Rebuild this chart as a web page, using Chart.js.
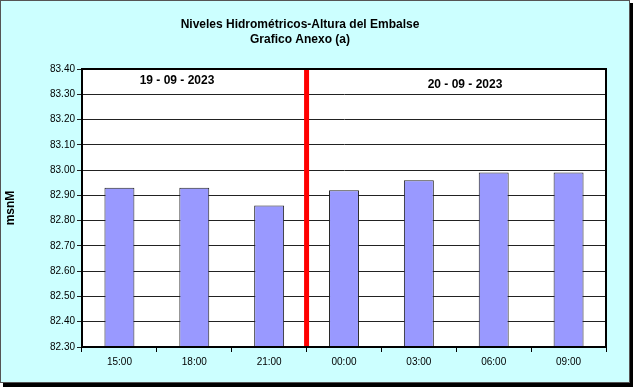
<!DOCTYPE html>
<html>
<head>
<meta charset="utf-8">
<script src="https://cdn.jsdelivr.net/npm/chart.js@4/dist/chart.umd.min.js"></script>
<style>
  html, body { margin: 0; padding: 0; background: #fff; }
  canvas { display: block; }
</style>
</head>
<body>
<canvas id="nivelesChart" width="633" height="387"></canvas>
<script>
// Chart data
const horas = ['15:00', '18:00', '21:00', '00:00', '03:00', '06:00', '09:00'];
const niveles = [82.93, 82.93, 82.86, 82.92, 82.96, 82.99, 82.99];
const fechas = ['19 - 09 - 2023', '20 - 09 - 2023'];
const tituloLineas = ['Niveles Hidrométricos-Altura del Embalse', 'Grafico Anexo (a)'];
const ejeY = { min: 82.3, max: 83.4, step: 0.1, titulo: 'msnM' };
const cambioDia = 2.5; // between 21:00 and 00:00

const FONT = "'Liberation Sans', Arial, sans-serif";

// Background, frame, titles, day divider
const decoPlugin = {
  id: 'deco',
  beforeDraw(chart) {
    const ctx = chart.ctx;
    const W = chart.width, H = chart.height;
    ctx.save();
    // shadow
    ctx.fillStyle = '#000';
    ctx.fillRect(3, 3, W - 3, H - 3);
    ctx.fillStyle = '#fff';
    ctx.fillRect(0, 0, 3, H);
    ctx.fillRect(0, 0, W, 3);
    // frame
    ctx.fillStyle = '#CCFFFF';
    ctx.fillRect(0, 0, 630, 383);
    ctx.strokeStyle = '#555';
    ctx.lineWidth = 1;
    ctx.strokeRect(0.5, 0.5, 629, 382);
    // plot background
    const a = chart.chartArea;
    ctx.fillStyle = '#fff';
    ctx.fillRect(a.left, a.top, a.right - a.left, a.bottom - a.top);
    // title
    ctx.fillStyle = '#000';
    ctx.font = 'bold 12px ' + FONT;
    ctx.textAlign = 'center';
    ctx.textBaseline = 'middle';
    ctx.fillText(tituloLineas[0], 300, 25);
    ctx.fillText(tituloLineas[1], 300, 40);
    ctx.restore();
  },
  afterDatasetsDraw(chart) {
    const ctx = chart.ctx;
    const a = chart.chartArea;
    const x = chart.scales.x.getPixelForValue(cambioDia);
    ctx.save();
    ctx.strokeStyle = '#FF0000';
    ctx.lineWidth = 5;
    ctx.beginPath();
    ctx.moveTo(x, a.top);
    ctx.lineTo(x, a.bottom);
    ctx.stroke();
    // day labels
    ctx.fillStyle = '#000';
    ctx.font = 'bold 12px ' + FONT;
    ctx.textAlign = 'center';
    ctx.textBaseline = 'middle';
    ctx.fillText(fechas[0], 177, 81);
    ctx.fillText(fechas[1], 465, 85);
    // plot border
    ctx.strokeStyle = '#000';
    ctx.lineWidth = 2;
    ctx.strokeRect(a.left, a.top, a.right - a.left, a.bottom - a.top);
    ctx.restore();
  }
};

new Chart(document.getElementById('nivelesChart'), {
  type: 'bar',
  data: {
    labels: horas,
    datasets: [{
      data: niveles,
      backgroundColor: '#9999FF',
      borderColor: '#222',
      borderWidth: 1,
      barPercentage: 0.4,
      categoryPercentage: 1
    }]
  },
  options: {
    responsive: false,
    animation: false,
    devicePixelRatio: 1,
    layout: {
      padding: { top: 69, left: 0, right: 27, bottom: 0 }
    },
    plugins: {
      legend: { display: false },
      title: { display: false },
      tooltip: { enabled: false }
    },
    scales: {
      x: {
        offset: true,
        afterFit(scale) { scale.height = 40; },
        grid: {
          offset: true,
          drawOnChartArea: false,
          tickLength: 5,
          color: '#000'
        },
        border: { display: true, color: '#000', width: 2 },
        ticks: {
          color: '#000',
          padding: 4,
          maxRotation: 0,
          font: { family: FONT, size: 10 }
        }
      },
      y: {
        min: ejeY.min,
        max: ejeY.max,
        afterFit(scale) { scale.width = 82; },
        grid: {
          color: '#222',
          lineWidth: 1,
          tickLength: 5
        },
        border: { display: true, color: '#000', width: 2 },
        ticks: {
          stepSize: ejeY.step,
          color: '#000',
          padding: 2,
          font: { family: FONT, size: 10 },
          callback: v => Number(v).toFixed(2)
        },
        title: {
          display: true,
          text: ejeY.titulo,
          color: '#000',
          padding: { top: 3, bottom: 0 },
          font: { family: FONT, size: 12, weight: 'bold' }
        }
      }
    }
  },
  plugins: [decoPlugin]
});
</script>
</body>
</html>
